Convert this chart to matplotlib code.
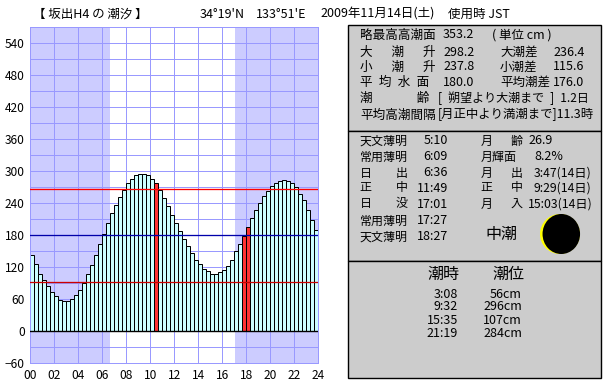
import matplotlib
matplotlib.use("Agg")
import matplotlib.pyplot as plt
from matplotlib.patches import Rectangle, Circle, Ellipse

plt.rcParams['font.family'] = ['Noto Sans CJK JP', 'DejaVu Sans']

# 20-minute tide heights (cm)
tide = [141,124,107,94,83,72,64,58,56,56,60,66,77,90,107,123,142,163,182,202,221,236,251,264,
        276,284,291,294,294,291,284,276,264,249,233,217,202,186,171,158,145,133,124,116,111,107,107,109,
        114,122,133,149,163,178,195,212,227,240,253,262,271,277,281,283,281,277,269,257,244,227,208,188]
highlight = [31, 53, 54]
sunrise_h = 6.6
sunset_h = 17.02
lines_cm = [266, 180, 92]
line_colors = ['#FF0000', '#0000AA', '#CC0000']
y_ticks = list(range(-60, 541, 60))
x_ticks = list(range(0, 25, 2))
x_labels = [f"{h:02d}" for h in x_ticks]

W, H = 610, 385
fig = plt.figure(figsize=(W/100, H/100), dpi=100, facecolor='white')
ax = fig.add_axes([30.4/W, 22.4/H, 288/W, 336/H])
px = 0.72
ax.set_xlim(0, 24)
ax.set_ylim(-60, 570)
ax.axvspan(0, sunrise_h, color='#CCCCFF', lw=0, zorder=0)
ax.axvspan(sunset_h, 24, color='#CCCCFF', lw=0, zorder=0)
ax.set_yticks(list(range(-60, 571, 30)), minor=True)
ax.set_yticks(y_ticks)
ax.set_xticks(x_ticks)
ax.set_xticklabels(x_labels)
ax.grid(True, which='both', color='#9999FF', lw=px, zorder=1)
ax.set_axisbelow(True)
ax.tick_params(which='both', length=0)
ax.tick_params(axis='y', pad=4, labelsize=8.6)
ax.tick_params(axis='x', pad=4.5, labelsize=8.6)
for s in ax.spines.values():
    s.set_color('#9999FF')
    s.set_linewidth(px)

xs = [i/3 for i in range(len(tide))]
cols = ['#FF3333' if i in highlight else '#CCFFFF' for i in range(len(tide))]
ax.bar(xs, tide, width=1/3, align='edge', color=cols, edgecolor='black', linewidth=px, zorder=2)
ax.axhline(0, color='black', lw=1.4*px, zorder=3)
for v, c in zip(lines_cm, line_colors):
    ax.axhline(v, color=c, lw=1.3*px, zorder=4)

ov = fig.add_axes([0, 0, 1, 1], facecolor='none')
ov.set_xlim(0, W)
ov.set_ylim(H, 0)
ov.axis('off')

for y0, y1 in [(24, 130), (130, 260), (260, 377)]:
    ov.add_patch(Rectangle((347.5, y0+0.5), 253, y1-y0, fc='#CCCCCC', ec='black', lw=1.4*px))

def T(x, y, s, size=12, ha='left'):
    ov.text(x, y, s, fontsize=size*0.72, ha=ha, va='center', color='black')

# header
T(33, 14, "【 坂出H4 の 潮汐 】", 12.5)
T(200, 14, "34°19'N", 12.5)
T(256, 14, "133°51'E", 12.5)
T(320, 14, "2009年11月14日(土)", 12.5)
T(448, 14, "使用時 JST", 12.5)

sp = "\u3000\u2002"
p1 = [(35, "略最高高潮面", "353.2"), (52, f"大{sp}潮{sp}升", "298.2"), (67, f"小{sp}潮{sp}升", "237.8"),
      (82, "平\u2002均\u2002水\u2002面", "180.0")]
for y, a, b in p1:
    T(360, y, a, 12.6)
    T(443, y, b, 12.5)
T(492, 35, "( 単位 cm )", 12.5)
for y, a, b in [(52, "大潮差", "236.4"), (67, "小潮差", "115.6"), (82, "平均潮差", "176.0")]:
    T(500, y, a, 12.5)
    T(553, y, b, 12.5)
T(360, 98, "潮\u3000\u3000\u3000\u2002齢", 12.6)
T(438, 98, "[\u2002朔望より大潮まで\u2002]\u20021.2日", 12)
T(360, 115, "平均高潮間隔", 12.6)
T(438, 115, "[月正中より満潮まで]11.3時", 12.4)

rows2 = [(141, "天文薄明", "5:10"), (157, "常用薄明", "6:09"), (173, "日\u3000\u3000出", "6:36"),
         (188, "正\u3000\u3000中", "11:49"), (204, "日\u3000\u3000没", "17:01"),
         (221, "常用薄明", "17:27"), (237, "天文薄明", "18:27")]
for y, a, b in rows2:
    T(360, y, a, 12)
    T(448, y, b, 12.5, ha='right')
T(481, 141, "月\u3000\u2002齢", 12)
T(528, 141, "26.9", 12.5)
T(481, 157, "月輝面", 12)
T(534, 157, "8.2%", 12.5)
T(481, 173, "月\u3000\u2002出", 12)
T(534, 173, "3:47(14日)", 12.2)
T(481, 188, "正\u3000\u2002中", 12)
T(534, 188, "9:29(14日)", 12.2)
T(481, 204, "月\u3000\u2002入", 12)
T(528, 204, "15:03(14日)", 12.2)
T(501, 234, "中潮", 16, ha='center')

ov.add_patch(Circle((560, 234), 20, fc='#FFFF00', ec='none'))
ov.add_patch(Ellipse((561.3, 234), 37.5, 40, fc='black', ec='none'))

T(443, 274, "潮時", 16, ha='center')
T(508, 274, "潮位", 16, ha='center')
tide_times = ["3:08", "9:32", "15:35", "21:19"]
tide_levels = ["56cm", "296cm", "107cm", "284cm"]
for y, a, b in zip([294, 307, 320.5, 333.5], tide_times, tide_levels):
    T(458, y, a, 12.5, ha='right')
    T(522, y, b, 12.5, ha='right')

fig.savefig("out.png", dpi=100)
